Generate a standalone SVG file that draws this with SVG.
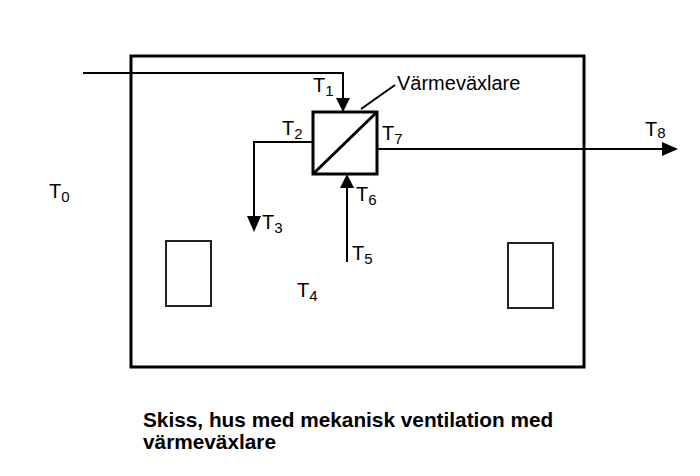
<svg xmlns="http://www.w3.org/2000/svg" width="700" height="476" viewBox="0 0 700 476">
<defs>
<style>
.ln{fill:none;stroke:#000;stroke-width:2}
.box{fill:none;stroke:#000;stroke-width:3}
.win{fill:#fff;stroke:#222;stroke-width:2}
.lbl{font-family:"Liberation Sans",Arial,sans-serif;font-size:20px;fill:#000}
.sub{font-size:15px}
.cap{font-family:"Liberation Sans",Arial,sans-serif;font-size:20.8px;font-weight:bold;fill:#000}
</style>
</defs>
<rect width="700" height="476" fill="#fff"/>
<g id="house">
<rect x="131" y="56" width="453" height="311" class="box"/>
</g>
<g id="window-left"><rect x="166" y="241" width="45" height="65" class="win"/></g>
<g id="window-right"><rect x="508" y="243" width="45" height="65" class="win"/></g>
<g id="connectors">
<polyline points="83,73 343,73 343,100" class="ln"/>
<polygon points="336,98 350,98 343,112" fill="#000"/>
<polyline points="312,142 254,142 254,218" class="ln"/>
<polygon points="247,216 261,216 254,232" fill="#000"/>
<line x1="377" y1="149" x2="664" y2="149" class="ln"/>
<polygon points="662,142 662,156 678,149" fill="#000"/>
<line x1="347" y1="262" x2="347" y2="186" class="ln"/>
<polygon points="340,188 354,188 347,174" fill="#000"/>
<line x1="361" y1="109" x2="395" y2="85" class="ln"/>
</g>
<g id="heat-exchanger">
<rect x="313" y="112" width="64" height="62" class="box"/>
<line x1="313" y1="174" x2="377" y2="112" class="box"/>
<text x="397" y="90" class="lbl">Värmeväxlare</text>
</g>
<g id="labels">
<text x="313" y="92" class="lbl">T<tspan class="sub" dy="4">1</tspan></text>
<text x="282" y="135" class="lbl">T<tspan class="sub" dy="4">2</tspan></text>
<text x="262" y="229" class="lbl">T<tspan class="sub" dy="4">3</tspan></text>
<text x="297" y="297" class="lbl">T<tspan class="sub" dy="4">4</tspan></text>
<text x="352" y="260" class="lbl">T<tspan class="sub" dy="4">5</tspan></text>
<text x="356" y="201" class="lbl">T<tspan class="sub" dy="4">6</tspan></text>
<text x="382" y="140" class="lbl">T<tspan class="sub" dy="4">7</tspan></text>
<text x="645" y="136" class="lbl">T<tspan class="sub" dy="2">8</tspan></text>
<text x="49" y="198" class="lbl">T<tspan class="sub" dy="4">0</tspan></text>
</g>
<g id="caption">
<text x="143" y="427" class="cap">Skiss, hus med mekanisk ventilation med</text>
<text x="143" y="449" class="cap">värmeväxlare</text>
</g>
</svg>
